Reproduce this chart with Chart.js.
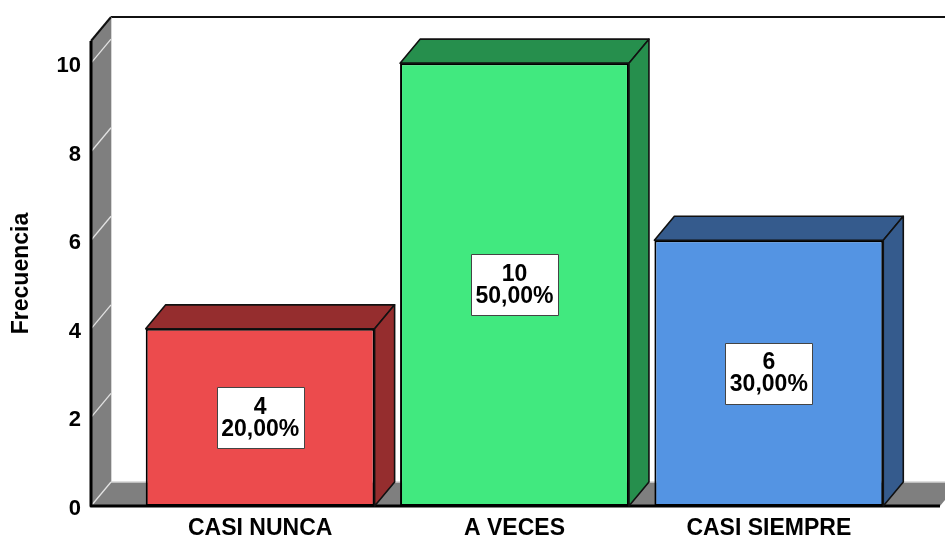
<!DOCTYPE html>
<html>
<head>
<meta charset="utf-8">
<script src="https://cdn.jsdelivr.net/npm/chart.js@4/dist/chart.umd.min.js"></script>
<style>
  html, body { margin: 0; padding: 0; background: #fff; }
</style>
</head>
<body>
<canvas id="c" width="945" height="540"></canvas>
<script>
const categories  = ['CASI NUNCA', 'A VECES', 'CASI SIEMPRE'];
const counts      = [4, 10, 6];
const percents    = ['20,00%', '50,00%', '30,00%'];
const yTicks      = [0, 2, 4, 6, 8, 10];
const frontColors = ['#EC4B4D', '#41E97F', '#5494E3'];
const darkColors  = ['#952D2E', '#268F4D', '#355B8D'];

const FONT = '"Liberation Sans", Arial, sans-serif';
const DX = 20, DY = 24;   // depth of the 3D effect

function line(ctx, pts, color, w) {
  ctx.beginPath();
  ctx.moveTo(pts[0][0], pts[0][1]);
  for (let i = 1; i < pts.length; i++) ctx.lineTo(pts[i][0], pts[i][1]);
  ctx.strokeStyle = color; ctx.lineWidth = w; ctx.stroke();
}
function poly(ctx, pts, fill, stroke, w) {
  ctx.beginPath();
  ctx.moveTo(pts[0][0], pts[0][1]);
  for (let i = 1; i < pts.length; i++) ctx.lineTo(pts[i][0], pts[i][1]);
  ctx.closePath();
  ctx.fillStyle = fill; ctx.fill();
  if (stroke) { ctx.strokeStyle = stroke; ctx.lineWidth = w; ctx.stroke(); }
}

// walls, floor and 3D faces of the bars
const box3d = {
  id: 'box3d',
  beforeDatasetsDraw(chart) {
    const { ctx, chartArea: ca, scales: { y } } = chart;
    const wx   = ca.left - 42;
    const top  = ca.top;
    const base = y.getPixelForValue(0);
    const fr   = ca.right + 44;
    ctx.save();
    ctx.lineJoin = 'round';
    // back panel
    line(ctx, [[wx + DX, top - DY], [chart.width, top - DY]], '#111', 2);
    line(ctx, [[wx + DX, top - DY], [wx + DX, base - DY]], '#c8c8c8', 1.5);
    // left wall + floor
    poly(ctx, [[wx, top], [wx + DX, top - DY], [wx + DX, base - DY], [wx, base]], '#7f7f7f');
    poly(ctx, [[wx, base], [wx + DX, base - DY], [fr + DX, base - DY], [fr, base]], '#7f7f7f');
    line(ctx, [[wx + DX, base - DY], [chart.width, base - DY]], '#d4d4d4', 1.5);
    // grid lines on the wall
    yTicks.forEach(v => {
      const py = y.getPixelForValue(v);
      line(ctx, [[wx, py], [wx + DX, py - DY]], '#e2e2e2', 1.3);
    });
    // front edges
    line(ctx, [[wx, top], [wx + DX, top - DY]], '#111', 2);
    line(ctx, [[wx, top], [wx, base], [fr, base]], '#000', 3);
    ctx.restore();
  },
  afterDatasetsDraw(chart) {
    const { ctx } = chart;
    const meta = chart.getDatasetMeta(0);
    ctx.save();
    ctx.lineJoin = 'round';
    meta.data.forEach((el, i) => {
      const { x, y, base, width } = el.getProps(['x', 'y', 'base', 'width'], true);
      const l = x - width / 2, r = x + width / 2;
      poly(ctx, [[l, y], [l + DX, y - DY], [r + DX, y - DY], [r, y]], darkColors[i], '#111', 1.6);
      poly(ctx, [[r, y], [r + DX, y - DY], [r + DX, base - DY], [r, base]], darkColors[i], '#111', 1.6);

      // value label box
      const lines = [String(counts[i]), percents[i]];
      ctx.font = 'bold 23px ' + FONT;
      const tw = Math.max(...lines.map(t => ctx.measureText(t).width));
      const bw = Math.round(tw + 9), bh = 61;
      const cy = (y + base) / 2;
      const bx = Math.round(x - bw / 2) + 0.5, by = Math.round(cy - bh / 2) + 0.5;
      ctx.fillStyle = '#fff';
      ctx.fillRect(bx, by, bw, bh);
      ctx.strokeStyle = '#444'; ctx.lineWidth = 1;
      ctx.strokeRect(bx, by, bw, bh);
      ctx.fillStyle = '#000';
      ctx.textAlign = 'center'; ctx.textBaseline = 'middle';
      ctx.fillText(lines[0], x, cy - 10);
      ctx.fillText(lines[1], x, cy + 12);
    });
    ctx.restore();
  }
};

new Chart(document.getElementById('c'), {
  type: 'bar',
  data: {
    labels: categories,
    datasets: [{
      data: counts,
      backgroundColor: frontColors,
      borderColor: '#000',
      borderWidth: 2,
      borderSkipped: false,
      barPercentage: 0.9,
      categoryPercentage: 1,
    }]
  },
  options: {
    responsive: false,
    animation: false,
    devicePixelRatio: 1,
    layout: { padding: { top: 41, right: 49, left: 0, bottom: 0 } },
    plugins: { legend: { display: false }, tooltip: { enabled: false } },
    scales: {
      x: {
        offset: true,
        grid: { display: false, drawTicks: false },
        border: { display: false },
        ticks: { color: '#000', font: { family: FONT, size: 23, weight: 'bold' }, padding: 9, maxRotation: 0 },
        afterFit(s) { s.height = 34; },
      },
      y: {
        min: 0, max: 10.5,
        grid: { display: false, drawTicks: true, tickLength: 52 },
        border: { display: false },
        ticks: { color: '#000', font: { family: FONT, size: 22, weight: 'bold' }, padding: 0, labelOffset: 3 },
        afterBuildTicks(s) { s.ticks = yTicks.map(v => ({ value: v })); },
        title: { display: true, text: 'Frecuencia', color: '#000',
                 font: { family: FONT, size: 23, weight: 'bold' }, padding: { top: 8, bottom: 0 } },
        afterFit(s) { s.width = 133; },
      }
    }
  },
  plugins: [box3d]
});
</script>
</body>
</html>
